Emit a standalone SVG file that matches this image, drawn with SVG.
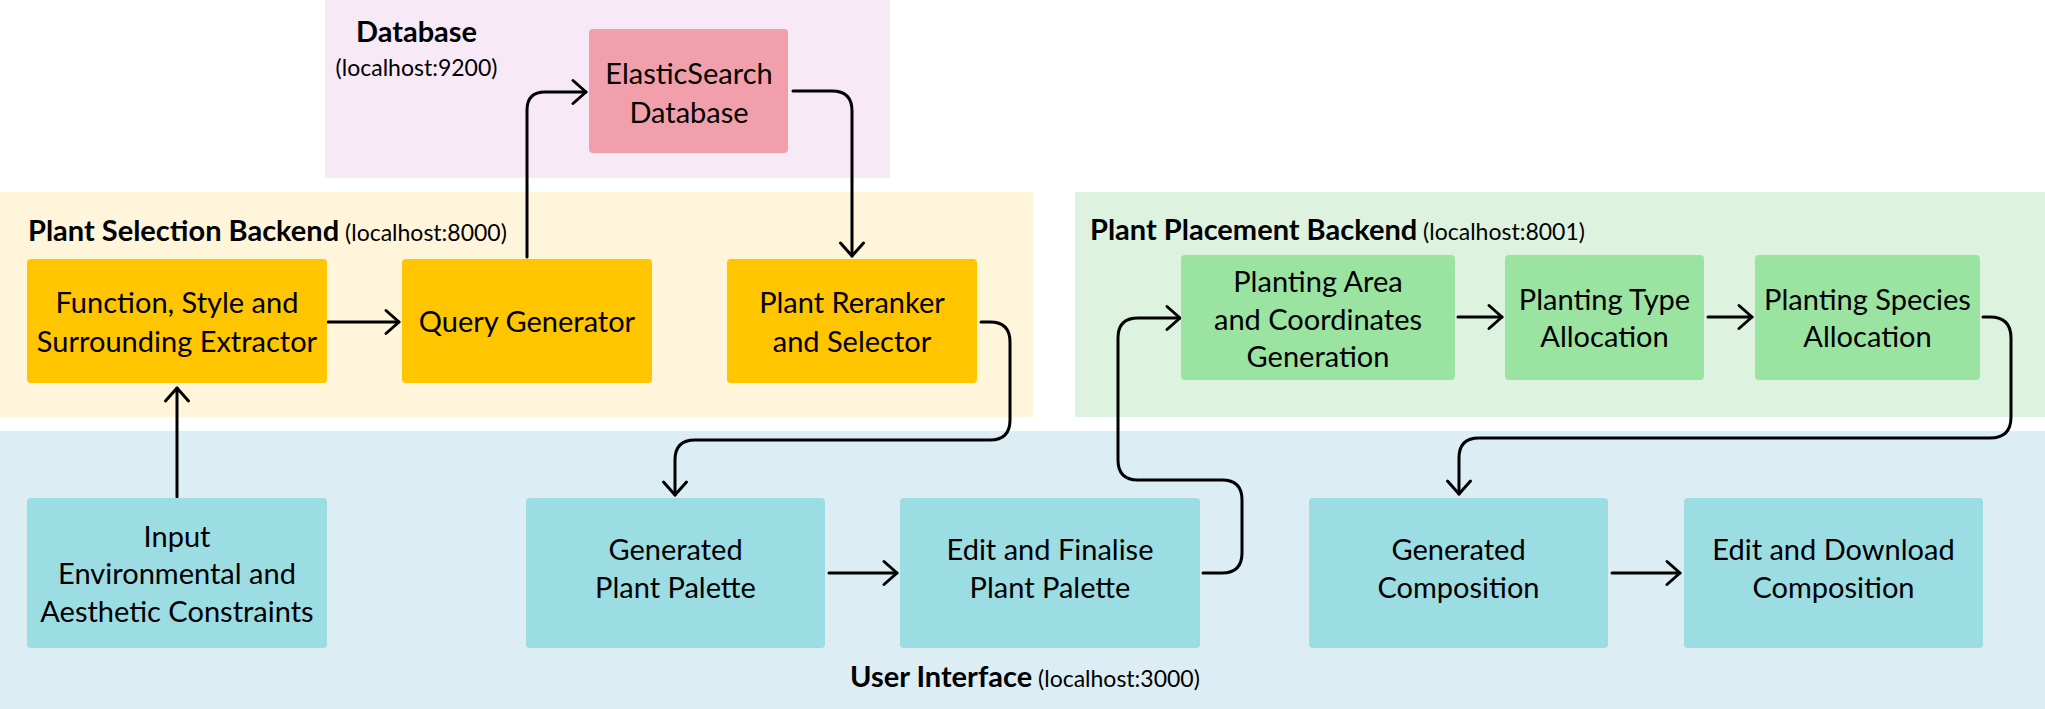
<svg xmlns="http://www.w3.org/2000/svg" width="2045" height="709" viewBox="0 0 2045 709">
<defs>
<style>
.t{font-family:Lato,"Liberation Sans",sans-serif;font-size:29px;fill:#000;text-anchor:middle}
.lb{font-family:Lato,"Liberation Sans",sans-serif;font-size:29px;font-weight:bold;fill:#000}
.ls{font-family:Lato,"Liberation Sans",sans-serif;font-size:23px;font-weight:normal;fill:#000}
.c{fill:none;stroke:#000;stroke-width:3;stroke-linecap:round;stroke-linejoin:round}
.yb{fill:#FFC600}
.gb{fill:#9BE3A0}
.bb{fill:#9BDDE3}
.pb{fill:#F19FAA}
</style>
<marker id="ah" markerUnits="userSpaceOnUse" markerWidth="30" markerHeight="30" refX="0" refY="0" viewBox="-16 -15 20 30" orient="auto" overflow="visible">
<path d="M-13,-11.5 L0,0 L-13,11.5" fill="none" stroke="#000" stroke-width="3" stroke-linecap="round" stroke-linejoin="round"/>
</marker>
</defs>
<rect width="2045" height="709" fill="#fff"/>
<g id="regions">
<rect id="region-db" x="325" y="0" width="565" height="178" fill="#F8E9F6"/>
<rect id="region-ps" x="0" y="192" width="1033" height="225" fill="#FEF5DB"/>
<rect id="region-pp" x="1075" y="192" width="970" height="225" fill="#DDF3DF"/>
<rect id="region-ui" x="0" y="431" width="2045" height="278" fill="#DCEEF4"/>
<text class="lb" x="416.5" y="42" text-anchor="middle" font-size="30">Database</text>
<text class="ls" x="416.5" y="76" text-anchor="middle">(localhost:9200)</text>
<text class="lb" x="28" y="241">Plant Selection Backend<tspan class="ls"> (localhost:8000)</tspan></text>
<text class="lb" x="1090" y="240">Plant Placement Backend<tspan class="ls"> (localhost:8001)</tspan></text>
<text class="lb" x="850" y="687">User Interface<tspan class="ls"> (localhost:3000)</tspan></text>
</g>
<g id="connectors">
<path class="c" d="M177,497 V388" marker-end="url(#ah)"/>
<path class="c" d="M328,322 H399" marker-end="url(#ah)"/>
<path class="c" d="M527,257 V110 Q527,92 545,92 H586" marker-end="url(#ah)"/>
<path class="c" d="M793,91 H832 Q852,91 852,111 V256" marker-end="url(#ah)"/>
<path class="c" d="M981,322 H990 Q1010,322 1010,342 V420 Q1010,440 990,440 H695 Q675,440 675,460 V495" marker-end="url(#ah)"/>
<path class="c" d="M829,573 H897" marker-end="url(#ah)"/>
<path class="c" d="M1203,573 H1222 Q1242,573 1242,553 V500 Q1242,480 1222,480 H1138 Q1118,480 1118,460 V338 Q1118,318 1138,318 H1180" marker-end="url(#ah)"/>
<path class="c" d="M1458,317 H1502" marker-end="url(#ah)"/>
<path class="c" d="M1708,317 H1752" marker-end="url(#ah)"/>
<path class="c" d="M1983,317 H1990 Q2011,317 2011,338 V417 Q2011,438 1990,438 H1479 Q1459,438 1459,458 V494" marker-end="url(#ah)"/>
<path class="c" d="M1612,573 H1680" marker-end="url(#ah)"/>
</g>
<g id="n-elastic">
<rect class="pb" x="589" y="29" width="199" height="124" rx="4"/>
<text class="t" x="689" y="84">ElasticSearch</text>
<text class="t" x="689" y="123">Database</text>
</g>
<g id="n-extractor">
<rect class="yb" x="27" y="259" width="300" height="124" rx="4"/>
<text class="t" x="177" y="313">Function, Style and</text>
<text class="t" x="177" y="352">Surrounding Extractor</text>
</g>
<g id="n-query">
<rect class="yb" x="402" y="259" width="250" height="124" rx="4"/>
<text class="t" x="527" y="332">Query Generator</text>
</g>
<g id="n-reranker">
<rect class="yb" x="727" y="259" width="250" height="124" rx="4"/>
<text class="t" x="852" y="313">Plant Reranker</text>
<text class="t" x="852" y="352">and Selector</text>
</g>
<g id="n-area">
<rect class="gb" x="1181" y="255" width="274" height="125" rx="4"/>
<text class="t" x="1318" y="292">Planting Area</text>
<text class="t" x="1318" y="330">and Coordinates</text>
<text class="t" x="1318" y="367">Generation</text>
</g>
<g id="n-type">
<rect class="gb" x="1505" y="255" width="199" height="125" rx="4"/>
<text class="t" x="1604.5" y="310">Planting Type</text>
<text class="t" x="1604.5" y="347">Allocation</text>
</g>
<g id="n-species">
<rect class="gb" x="1755" y="255" width="225" height="125" rx="4"/>
<text class="t" x="1867.5" y="310">Planting Species</text>
<text class="t" x="1867.5" y="347">Allocation</text>
</g>
<g id="n-input">
<rect class="bb" x="27" y="498" width="300" height="150" rx="4"/>
<text class="t" x="177" y="547">Input</text>
<text class="t" x="177" y="584">Environmental and</text>
<text class="t" x="177" y="622">Aesthetic Constraints</text>
</g>
<g id="n-gpp">
<rect class="bb" x="526" y="498" width="299" height="150" rx="4"/>
<text class="t" x="675.5" y="560">Generated</text>
<text class="t" x="675.5" y="598">Plant Palette</text>
</g>
<g id="n-efp">
<rect class="bb" x="900" y="498" width="300" height="150" rx="4"/>
<text class="t" x="1050" y="560">Edit and Finalise</text>
<text class="t" x="1050" y="598">Plant Palette</text>
</g>
<g id="n-gc">
<rect class="bb" x="1309" y="498" width="299" height="150" rx="4"/>
<text class="t" x="1458.5" y="560">Generated</text>
<text class="t" x="1458.5" y="598">Composition</text>
</g>
<g id="n-edc">
<rect class="bb" x="1684" y="498" width="299" height="150" rx="4"/>
<text class="t" x="1833.5" y="560">Edit and Download</text>
<text class="t" x="1833.5" y="598">Composition</text>
</g>
</svg>
